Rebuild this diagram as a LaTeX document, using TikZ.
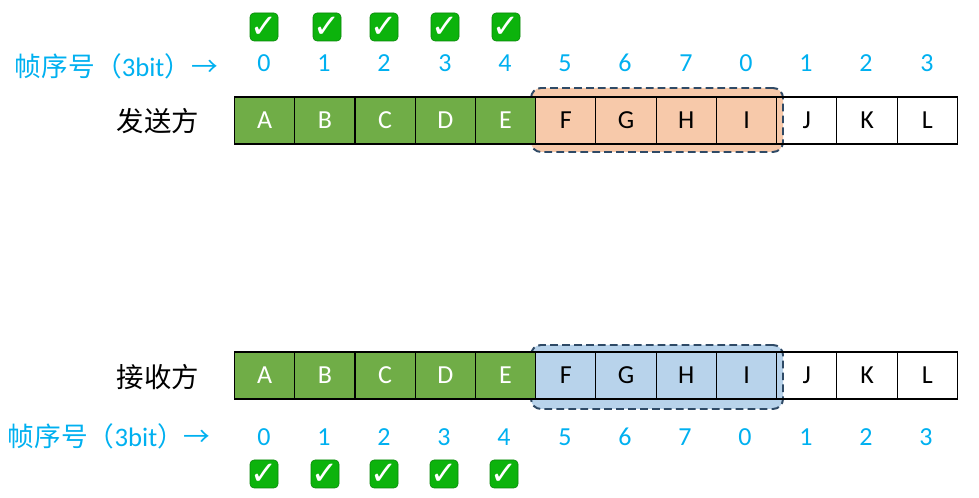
\documentclass[tikz,border=0pt]{standalone}
\usepackage{fontspec}
\usepackage{xcolor}
\setmainfont{Carlito}
\newfontfamily\cjkfont{Noto Sans CJK SC}
\newfontfamily\tickfont{DejaVu Sans}
\definecolor{cellgreen}{HTML}{70AD47}
\definecolor{sendfill}{HTML}{F7C9AA}
\definecolor{recvfill}{HTML}{B8D3EB}
\definecolor{seqblue}{HTML}{00B0F0}
\definecolor{tickgreen}{HTML}{0CB30C}
\definecolor{winedge}{HTML}{2F4A66}
\begin{document}
\begin{tikzpicture}[
    cell/.style={
        rectangle,
        minimum width=1.506cm,
        minimum height=1.175cm,
        inner sep=0pt,
        align=center,
        draw=black,
        line width=0.8pt,
        font=\fontsize{18.5}{22}\selectfont
    },
    done/.style={cell, fill=cellgreen, text=white},
    todo/.style={cell},
    window/.style={
        rectangle,
        rounded corners=0.25cm,
        minimum width=6.3cm,
        minimum height=1.6cm,
        draw=winedge,
        line width=1.4pt,
        dash pattern=on 5.5pt off 3pt
    },
    seq/.style={font=\fontsize{18.5}{22}\selectfont, text=seqblue},
    seqlabel/.style={font=\fontsize{19}{23}\cjkfont, text=seqblue, inner sep=0pt},
    party/.style={font=\fontsize{19.5}{23}\cjkfont, text=black, inner sep=0pt},
    tick/.style={
        rectangle,
        rounded corners=0.1cm,
        minimum size=0.7cm,
        inner sep=0pt,
        fill=tickgreen,
        draw=tickgreen!75!black,
        line width=0.4pt,
        text=white,
        font=\fontsize{23}{23}\tickfont\bfseries
    }
]

\useasboundingbox (0, 0) rectangle (24.475, 12.45);

% Sliding windows
\node[window, fill=sendfill] (sendwin) at (16.425, 9.45) {};
\node[window, fill=recvfill] (recvwin) at (16.425, 3.025) {};

% Sender
\node[party] (sender) at (3.95, 9.42) {发送方};
\node[seqlabel] (sendseq) at (2.91, 10.78) {帧序号（{\fontspec{Carlito}3bit}）→};

\node[done] (sa) at (6.615, 9.4375) {A};
\node[done] (sb) at (8.121, 9.4375) {B};
\node[done] (sc) at (9.627, 9.4375) {C};
\node[done] (sd) at (11.133, 9.4375) {D};
\node[done] (se) at (12.639, 9.4375) {E};
\node[todo] (sf) at (14.145, 9.4375) {F};
\node[todo] (sg) at (15.651, 9.4375) {G};
\node[todo] (sh) at (17.157, 9.4375) {H};
\node[todo] (si) at (18.663, 9.4375) {I};
\node[todo] (sj) at (20.169, 9.4375) {J};
\node[todo] (sk) at (21.675, 9.4375) {K};
\node[todo] (sl) at (23.181, 9.4375) {L};

\node[seq] (sn0) at (6.6, 10.88) {0};
\node[seq] (sn1) at (8.1, 10.88) {1};
\node[seq] (sn2) at (9.6, 10.88) {2};
\node[seq] (sn3) at (11.125, 10.88) {3};
\node[seq] (sn4) at (12.625, 10.88) {4};
\node[seq] (sn5) at (14.125, 10.88) {5};
\node[seq] (sn6) at (15.625, 10.88) {6};
\node[seq] (sn7) at (17.15, 10.88) {7};
\node[seq] (sn8) at (18.65, 10.88) {0};
\node[seq] (sn9) at (20.15, 10.88) {1};
\node[seq] (sn10) at (21.65, 10.88) {2};
\node[seq] (sn11) at (23.175, 10.88) {3};

\node[tick] (st0) at (6.6, 11.775) {✓};
\node[tick] (st1) at (8.175, 11.775) {✓};
\node[tick] (st2) at (9.6, 11.775) {✓};
\node[tick] (st3) at (11.125, 11.775) {✓};
\node[tick] (st4) at (12.65, 11.775) {✓};

% Receiver
\node[party] (receiver) at (3.95, 3.02) {接收方};
\node[seqlabel] (recvseq) at (2.73, 1.55) {帧序号（{\fontspec{Carlito}3bit}）→};

\node[done] (ra) at (6.615, 3.0625) {A};
\node[done] (rb) at (8.121, 3.0625) {B};
\node[done] (rc) at (9.627, 3.0625) {C};
\node[done] (rd) at (11.133, 3.0625) {D};
\node[done] (re) at (12.639, 3.0625) {E};
\node[todo] (rf) at (14.145, 3.0625) {F};
\node[todo] (rg) at (15.651, 3.0625) {G};
\node[todo] (rh) at (17.157, 3.0625) {H};
\node[todo] (ri) at (18.663, 3.0625) {I};
\node[todo] (rj) at (20.169, 3.0625) {J};
\node[todo] (rk) at (21.675, 3.0625) {K};
\node[todo] (rl) at (23.181, 3.0625) {L};

\node[seq] (rn0) at (6.6, 1.53) {0};
\node[seq] (rn1) at (8.1, 1.53) {1};
\node[seq] (rn2) at (9.6, 1.53) {2};
\node[seq] (rn3) at (11.1, 1.53) {3};
\node[seq] (rn4) at (12.6, 1.53) {4};
\node[seq] (rn5) at (14.125, 1.53) {5};
\node[seq] (rn6) at (15.625, 1.53) {6};
\node[seq] (rn7) at (17.125, 1.53) {7};
\node[seq] (rn8) at (18.625, 1.53) {0};
\node[seq] (rn9) at (20.15, 1.53) {1};
\node[seq] (rn10) at (21.65, 1.53) {2};
\node[seq] (rn11) at (23.15, 1.53) {3};

\node[tick] (rt0) at (6.6, 0.6) {✓};
\node[tick] (rt1) at (8.125, 0.6) {✓};
\node[tick] (rt2) at (9.6, 0.6) {✓};
\node[tick] (rt3) at (11.1, 0.6) {✓};
\node[tick] (rt4) at (12.6, 0.6) {✓};

\end{tikzpicture}
\end{document}
